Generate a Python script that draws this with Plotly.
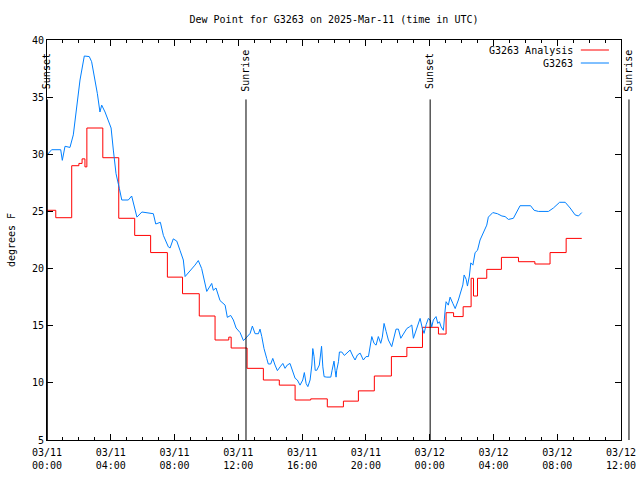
import pandas as pd
import plotly.graph_objects as go

START = "2025-03-11 00:00"
END = "2025-03-12 12:00"

# Observed dew point (G3263): hours since 03/11 00:00 UTC and degrees F
obs_hours = [0.0, 0.29, 0.86, 0.96, 1.13, 1.44, 1.65, 1.86, 2.07, 2.34, 2.65, 2.8, 3.01, 3.16, 3.32, 3.43,
             3.64, 3.85, 4.02, 4.16, 4.33, 4.54, 4.69, 5.1, 5.31, 5.64, 5.95, 6.67, 6.82, 7.11, 7.3, 7.61,
             7.72, 7.92, 8.14, 8.34, 8.55, 8.66, 8.86, 9.28, 9.49, 9.7, 10.02, 10.23, 10.33, 10.43, 10.6,
             10.85, 11.17, 11.31, 11.52, 11.69, 11.86, 12.11, 12.32, 12.53, 12.74, 12.88, 13.05, 13.26,
             13.36, 13.47, 13.61, 13.78, 13.88, 14.03, 14.16, 14.3, 14.45, 14.62, 14.79, 14.93, 15.07,
             15.24, 15.41, 15.56, 15.7, 15.87, 16.04, 16.14, 16.25, 16.36, 16.5, 16.61, 16.67, 16.75,
             16.82, 16.92, 17.08, 17.22, 17.3, 17.38, 17.55, 17.8, 17.88, 18.0, 18.07, 18.13, 18.17,
             18.28, 18.34, 18.49, 18.65, 18.8, 19.01, 19.18, 19.32, 19.47, 19.64, 19.84, 20.01, 20.16,
             20.26, 20.37, 20.51, 20.64, 20.78, 20.93, 21.03, 21.14, 21.27, 21.41, 21.62, 21.72, 21.89,
             22.04, 22.19, 22.35, 22.57, 22.73, 22.88, 22.98, 23.15, 23.26, 23.4, 23.54, 23.65, 23.78,
             23.92, 24.03, 24.13, 24.23, 24.4, 24.51, 24.61, 24.72, 24.86, 24.97, 25.03, 25.17, 25.28,
             25.45, 25.6, 25.8, 25.95, 26.08, 26.16, 26.29, 26.37, 26.49, 26.58, 26.71, 26.85, 27.0,
             27.16, 27.37, 27.58, 27.68, 27.96, 28.25, 28.53, 28.73, 28.94, 29.25, 29.47, 29.67, 30.33,
             30.55, 30.82, 31.45, 31.76, 32.15, 32.5, 32.81, 33.12, 33.33, 33.54]
obs_values = [29.93, 30.4, 30.4, 29.47, 30.7, 30.6, 31.7, 33.9, 36.5, 38.6, 38.55, 38.1, 36.5, 35.3, 33.7, 34.3,
              33.7, 32.85, 32.3, 30.37, 28.3, 27.0, 26.0, 26.0, 26.35, 24.5, 24.95, 24.8, 23.9, 24.05, 22.9, 21.9,
              21.8, 22.6, 22.4, 21.6, 20.75, 19.3, 19.6, 20.3, 20.7, 20.0, 18.0, 18.4, 18.7, 18.1, 18.3,
              17.2, 16.8, 15.73, 15.9, 15.5, 14.8, 14.4, 13.7, 14.0, 14.33, 14.97, 14.3, 14.3,
              14.7, 14.05, 13.0, 12.14, 11.65, 11.65, 12.14, 11.56, 11.07, 11.4, 11.7, 11.27, 11.56,
              11.7, 11.0, 10.4, 10.25, 9.8, 10.25, 10.9, 9.95, 9.67, 10.25, 11.56, 13.0, 12.3,
              11.1, 11.1, 11.56, 13.2, 11.4, 10.54, 10.5, 10.5, 11.1, 11.9, 11.1, 10.5, 11.1,
              11.85, 12.7, 12.7, 12.4, 12.6, 12.87, 12.35, 12.0, 12.44, 12.6, 12.0, 12.3, 12.3,
              13.17, 14.05, 13.46, 13.3, 14.05, 13.46, 14.0, 15.2, 14.5, 13.75, 13.17, 13.8, 14.7,
              14.7, 13.9, 14.27, 14.76, 14.9, 15.06, 13.9, 14.57, 15.2, 15.64, 14.76, 14.33, 15.1,
              15.64, 15.5, 14.9, 15.5, 15.8, 15.2, 15.35, 14.9, 14.6, 16.37, 17.1, 16.8, 17.5,
              16.96, 16.5, 17.25, 18.0, 18.57, 19.44, 19.06, 18.47, 19.35, 20.5, 20.3, 21.4, 21.6,
              22.5, 23.2, 23.8, 24.5, 24.9, 24.8, 24.6, 24.55, 24.3, 24.4, 25.0, 25.5, 25.5,
              25.1, 25.0, 25.0, 25.3, 25.8, 25.8, 25.3, 24.7, 24.6, 24.9]

# Analysis dew point (step series): hours since 03/11 00:00 UTC and degrees F
ana_hours = [0.0, 0.55, 1.55, 2.0, 2.2, 2.38, 2.5, 3.5, 4.5, 5.5, 6.5, 7.55, 8.5, 9.55, 10.54, 11.4, 11.55,
             12.55, 13.57, 14.57, 15.56, 16.54, 17.58, 18.59, 19.53, 20.53, 21.6, 22.57, 23.55, 24.55,
             25.03, 25.5, 26.1, 26.6, 26.75, 27.0, 27.58, 28.5, 29.57, 30.6, 31.55, 32.56, 33.54]
ana_values = [25.1, 24.45, 29.0, 29.2, 29.6, 28.9, 32.3, 29.7, 24.4, 22.9, 21.4, 19.25, 17.8, 15.85, 13.75, 14.0, 13.05,
              11.27, 10.25, 9.8, 8.5, 8.6, 7.9, 8.4, 9.3, 10.6, 12.3, 13.1, 14.86, 14.27,
              16.14, 15.8, 16.66, 19.15, 17.6, 19.15, 19.93, 20.98, 20.6, 20.4, 21.4, 22.64, 22.64]

# Sun events: label and hours since 03/11 00:00 UTC
sun_labels = ["Sunset", "Sunrise", "Sunset", "Sunrise"]
sun_hours = [0.02, 12.48, 24.03, 36.5]

t0 = pd.Timestamp(START)
t1 = pd.Timestamp(END)
span_h = (t1 - t0).total_seconds() / 3600.0

obs_times = [t0 + pd.Timedelta(hours=h) for h in obs_hours]
ana_times = [t0 + pd.Timedelta(hours=h) for h in ana_hours]

FONT = "DejaVu Sans Mono"
RED = "#ff0000"
BLUE = "#0080ff"

fig = go.Figure()
fig.add_trace(go.Scatter(x=ana_times, y=ana_values, mode="lines", line=dict(color=RED, width=1, shape="hv"),
                         name="G3263 Analysis", showlegend=False))
fig.add_trace(go.Scatter(x=obs_times, y=obs_values, mode="lines", line=dict(color=BLUE, width=1),
                         name="G3263", showlegend=False))

shapes = []
annotations = []
for lab, h in zip(sun_labels, sun_hours):
    xf = h / span_h
    shapes.append(dict(type="line", xref="paper", yref="y", x0=xf, x1=xf, y0=5, y1=34.8,
                       line=dict(color="black", width=1)))
    annotations.append(dict(xref="paper", yref="y", x=xf, y=37.3, text=lab, textangle=-90,
                            showarrow=False, xanchor="center", yanchor="middle",
                            font=dict(family=FONT, size=10, color="black")))

# legend (text left of sample line, as in the reference)
leg_names = ["G3263 Analysis", "G3263"]
leg_colors = [RED, BLUE]
leg_y = [0.975, 0.9425]
for nm, col, yy in zip(leg_names, leg_colors, leg_y):
    annotations.append(dict(xref="paper", yref="paper", x=0.92, y=yy, text=nm, showarrow=False,
                            xanchor="right", yanchor="middle", font=dict(family=FONT, size=10, color="black")))
    shapes.append(dict(type="line", xref="paper", yref="paper", x0=0.930, x1=0.979, y0=yy, y1=yy,
                       line=dict(color=col, width=1)))

fig.update_layout(
    width=640, height=480,
    margin=dict(l=47, r=19, t=40, b=40, autoexpand=False),
    paper_bgcolor="white", plot_bgcolor="white",
    font=dict(family=FONT, size=10, color="black"),
    title=dict(text="Dew Point for G3263 on 2025-Mar-11 (time in UTC)", x=0.5, xref="paper",
               y=1 - 19 / 480, yref="container", xanchor="center", yanchor="middle",
               font=dict(family=FONT, size=10, color="black")),
    shapes=shapes, annotations=annotations, showlegend=False,
)
fig.update_xaxes(
    type="date", range=[t0, t1], dtick=4 * 3600 * 1000, tick0=t0, automargin=False,
    tickformat="%m/%d<br>%H:%M", ticks="inside", ticklen=6, tickcolor="black", ticklabelstandoff=3,
    showline=True, linecolor="black", linewidth=1, mirror="ticks", showgrid=False, zeroline=False,
    minor=dict(dtick=3600 * 1000, ticks="inside", ticklen=3, tickcolor="black", showgrid=False),
    tickfont=dict(family=FONT, size=10, color="black"),
)
fig.update_yaxes(
    range=[5, 40], dtick=5, tick0=5, ticks="inside", ticklen=6, tickcolor="black", automargin=False,
    showline=True, linecolor="black", linewidth=1, mirror="ticks", showgrid=False, zeroline=False,
    title=dict(text="degrees F", font=dict(family=FONT, size=10, color="black"), standoff=14),
    tickfont=dict(family=FONT, size=10, color="black"),
)

fig.write_html("out.html", config={"displayModeBar": False},
               post_script="document.body.style.margin='0';")
